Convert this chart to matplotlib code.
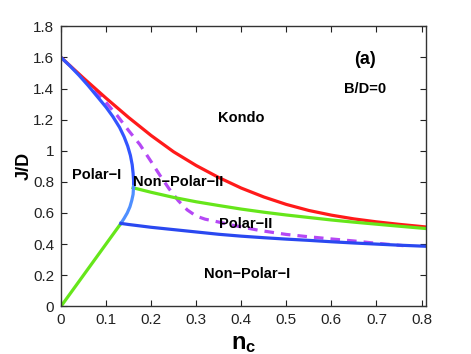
import numpy as np
import matplotlib
matplotlib.use('Agg')
import matplotlib.pyplot as plt
from matplotlib.ticker import FuncFormatter

plt.rcParams['font.family'] = ['Liberation Sans', 'DejaVu Sans']
plt.rcParams['mathtext.fontset'] = 'custom'
plt.rcParams['mathtext.bf'] = 'Liberation Sans:bold'

# Kondo boundary (red)
red_n = [0, 0.05, 0.1, 0.15, 0.2, 0.25, 0.3, 0.35, 0.4, 0.45, 0.5, 0.55, 0.6, 0.65, 0.7, 0.75, 0.81]
red_J = [1.6, 1.467, 1.338, 1.214, 1.098, 0.993, 0.905, 0.828, 0.76, 0.703, 0.655, 0.616, 0.586, 0.562, 0.543, 0.527, 0.51]

# Polar-I boundary (blue): dark upper part, light lower part
blue_up_n = [0, 0.02, 0.04, 0.06, 0.08, 0.1, 0.115, 0.13, 0.14, 0.148, 0.154, 0.158, 0.16, 0.161, 0.161]
blue_up_J = [1.6, 1.545, 1.485, 1.42, 1.35, 1.28, 1.22, 1.15, 1.09, 1.03, 0.97, 0.91, 0.855, 0.81, 0.77]
blue_lo_n = [0.161, 0.16, 0.157, 0.153, 0.147, 0.14, 0.133]
blue_lo_J = [0.77, 0.72, 0.68, 0.64, 0.60, 0.565, 0.533]

# Non-Polar-I / Polar-II boundary (blue)
blue_h_n = [0.133, 0.15, 0.2, 0.25, 0.3, 0.35, 0.4, 0.45, 0.5, 0.55, 0.6, 0.65, 0.7, 0.75, 0.81]
blue_h_J = [0.533, 0.526, 0.508, 0.493, 0.478, 0.463, 0.451, 0.441, 0.432, 0.424, 0.415, 0.407, 0.4, 0.393, 0.386]

# green lines
green_lo_n = [0, 0.133]
green_lo_J = [0, 0.533]
green_up_n = [0.16, 0.2, 0.25, 0.3, 0.35, 0.4, 0.45, 0.5, 0.55, 0.6, 0.65, 0.7, 0.75, 0.81]
green_up_J = [0.762, 0.733, 0.70, 0.672, 0.648, 0.625, 0.605, 0.587, 0.571, 0.555, 0.541, 0.528, 0.515, 0.50]

# dashed purple
purp_n = [0.075, 0.1, 0.125, 0.15, 0.175, 0.2, 0.22, 0.24, 0.26, 0.28, 0.3, 0.32, 0.34, 0.38,
          0.44, 0.5, 0.55, 0.6, 0.65, 0.7, 0.76]
purp_J = [1.39, 1.31, 1.225, 1.13, 1.04, 0.93, 0.84, 0.755, 0.68, 0.62, 0.58, 0.56, 0.548, 0.522,
          0.488, 0.462, 0.447, 0.433, 0.42, 0.405, 0.39]

fig = plt.figure(figsize=(4.71, 3.54), dpi=100)
ax = fig.add_axes([0.1295, 0.1347, 0.776, 0.791])

lw = 2.3
ax.plot(purp_n, purp_J, color='#b548f5', lw=lw, dashes=(3, 2.2))
ax.plot(red_n, red_J, color='#ff1a1a', lw=lw)
ax.plot(green_up_n, green_up_J, color='#66e61a', lw=lw)
ax.plot(green_lo_n, green_lo_J, color='#66e61a', lw=lw)
ax.plot(blue_up_n, blue_up_J, color='#3355ff', lw=lw)
ax.plot(blue_lo_n, blue_lo_J, color='#4f8fff', lw=lw)
ax.plot(blue_h_n, blue_h_J, color='#2a48f0', lw=lw)

fs = 10.5
kw = dict(fontsize=fs, fontweight='bold', ha='center', va='center')
ax.text(0.401, 1.208, 'Kondo', **kw)
ax.text(0.674, 1.587, '(a)', fontsize=13, fontweight='bold', ha='center', va='center')
ax.text(0.674, 1.395, 'B/D=0', **kw)
ax.text(0.08, 0.844, 'Polar\u2212I', **kw)
ax.text(0.259, 0.80, 'Non\u2212Polar\u2212II', **kw)
ax.text(0.41, 0.529, 'Polar\u2212II', **kw)
ax.text(0.413, 0.208, 'Non\u2212Polar\u2212I', **kw)

ax.set_xlim(0, 0.811)
ax.set_ylim(0, 1.8)
ax.set_xticks(np.arange(0, 0.81, 0.1))
ax.set_yticks(np.arange(0, 1.81, 0.2))
ax.xaxis.set_major_formatter(FuncFormatter(lambda v, p: '%g' % round(v, 2)))
ax.yaxis.set_major_formatter(FuncFormatter(lambda v, p: '%g' % round(v, 2)))
ax.tick_params(direction='in', top=True, right=True, labelsize=11, length=4, width=0.8,
               colors='#222222', pad=5)
for s in ax.spines.values():
    s.set_color('#333333')
    s.set_linewidth(1.0)

ax.set_xlabel(r'$\mathbf{n_c}$', fontsize=17, labelpad=4)
ax.set_ylabel('J/D', fontsize=13, fontweight='bold', labelpad=0)

fig.savefig('out.png', dpi=100)
